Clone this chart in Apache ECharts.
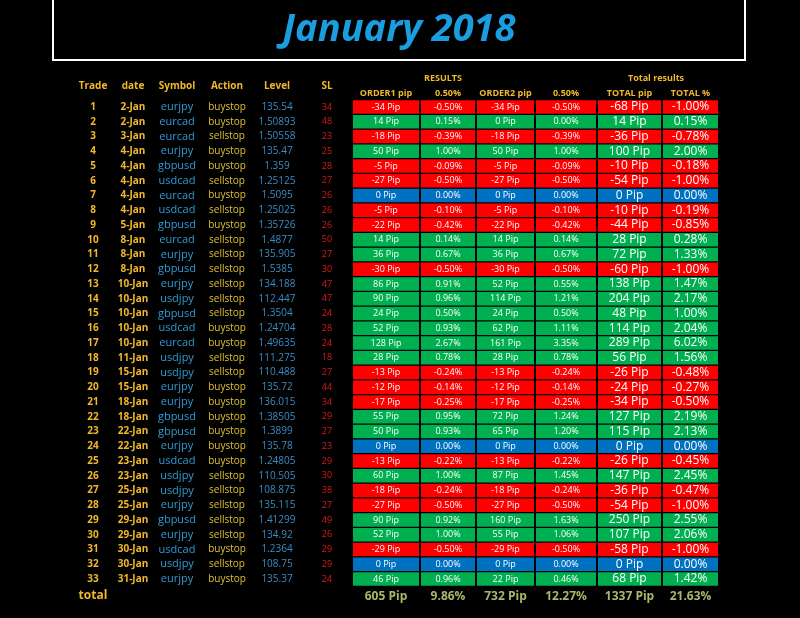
<!DOCTYPE html>
<html><head><meta charset="utf-8">
<script src="https://cdn.jsdelivr.net/npm/echarts@6/dist/echarts.min.js"></script>
<style>html,body{margin:0;padding:0;background:#000}#c{width:800px;height:618px}</style>
</head><body><div id="c"></div>
<script>
const dates=["2-Jan","2-Jan","3-Jan","4-Jan","4-Jan","4-Jan","4-Jan","4-Jan","5-Jan","8-Jan","8-Jan","8-Jan","10-Jan","10-Jan","10-Jan","10-Jan","10-Jan","11-Jan","15-Jan","15-Jan","18-Jan","18-Jan","22-Jan","22-Jan","23-Jan","23-Jan","25-Jan","25-Jan","29-Jan","29-Jan","30-Jan","30-Jan","31-Jan"];
const symbols=["eurjpy","eurcad","eurcad","eurjpy","gbpusd","usdcad","eurcad","usdcad","gbpusd","eurcad","eurjpy","gbpusd","eurjpy","usdjpy","gbpusd","usdcad","eurcad","usdjpy","usdjpy","eurjpy","eurjpy","gbpusd","gbpusd","eurjpy","usdcad","usdjpy","usdjpy","eurjpy","gbpusd","eurjpy","usdcad","usdjpy","eurjpy"];
const actions=["buystop","buystop","sellstop","buystop","buystop","sellstop","buystop","sellstop","buystop","sellstop","sellstop","sellstop","sellstop","sellstop","sellstop","buystop","buystop","sellstop","sellstop","buystop","buystop","buystop","buystop","buystop","buystop","sellstop","sellstop","sellstop","sellstop","sellstop","buystop","sellstop","buystop"];
const levels=["135.54","1.50893","1.50558","135.47","1.359","1.25125","1.5095","1.25025","1.35726","1.4877","135.905","1.5385","134.188","112.447","1.3504","1.24704","1.49635","111.275","110.488","135.72","136.015","1.38505","1.3899","135.78","1.24805","110.505","108.875","135.115","1.41299","134.92","1.2364","108.75","135.37"];
const sl=[34,48,23,25,28,27,26,26,26,50,27,30,47,47,24,28,24,18,27,44,34,29,27,23,29,30,38,27,49,26,29,29,24];
const o1pip=[-34,14,-18,50,-5,-27,0,-5,-22,14,36,-30,86,90,24,52,128,28,-13,-12,-17,55,50,0,-13,60,-18,-27,90,52,-29,0,46];
const o1pct=["-0.50%","0.15%","-0.39%","1.00%","-0.09%","-0.50%","0.00%","-0.10%","-0.42%","0.14%","0.67%","-0.50%","0.91%","0.96%","0.50%","0.93%","2.67%","0.78%","-0.24%","-0.14%","-0.25%","0.95%","0.93%","0.00%","-0.22%","1.00%","-0.24%","-0.50%","0.92%","1.00%","-0.50%","0.00%","0.96%"];
const o2pip=[-34,0,-18,50,-5,-27,0,-5,-22,14,36,-30,52,114,24,62,161,28,-13,-12,-17,72,65,0,-13,87,-18,-27,160,55,-29,0,22];
const o2pct=["-0.50%","0.00%","-0.39%","1.00%","-0.09%","-0.50%","0.00%","-0.10%","-0.42%","0.14%","0.67%","-0.50%","0.55%","1.21%","0.50%","1.11%","3.35%","0.78%","-0.24%","-0.14%","-0.25%","1.24%","1.20%","0.00%","-0.22%","1.45%","-0.24%","-0.50%","1.63%","1.06%","-0.50%","0.00%","0.46%"];
const totpip=[-68,14,-36,100,-10,-54,0,-10,-44,28,72,-60,138,204,48,114,289,56,-26,-24,-34,127,115,0,-26,147,-36,-54,250,107,-58,0,68];
const totpct=["-1.00%","0.15%","-0.78%","2.00%","-0.18%","-1.00%","0.00%","-0.19%","-0.85%","0.28%","1.33%","-1.00%","1.47%","2.17%","1.00%","2.04%","6.02%","1.56%","-0.48%","-0.27%","-0.50%","2.19%","2.13%","0.00%","-0.45%","2.45%","-0.47%","-1.00%","2.55%","2.06%","-1.00%","0.00%","1.42%"];
const totals=["605 Pip","9.86%","732 Pip","12.27%","1337 Pip","21.63%"];
const headLeft=["Trade","date","Symbol","Action","Level","SL"];
const headRes=["ORDER1 pip","0.50%","ORDER2 pip","0.50%","TOTAL pip","TOTAL %"];

// layout
const leftX=[93,133,177,227,277,327];
const cellL=[353,421,477,536,598,663], cellR=[419,475,534,596,661,718];
const leftStyle=[{c:'#f0b82a',f:'bold 10px "Open Sans"'},{c:'#f0b82a',f:'bold 10px "Open Sans"'},{c:'#2e9bd6',f:'11px "Open Sans"'},{c:'#e0c030',f:'10px "Open Sans"'},{c:'#3a8cc4',f:'10px "Open Sans"'},{c:'#e01818',f:'9px "Open Sans"'}];
const n=dates.length;
const cellData=[], leftData=[];
for(let i=0;i<n;i++){
  const s=Math.sign(totpip[i]);
  const vals=[o1pip[i]+" Pip",o1pct[i],o2pip[i]+" Pip",o2pct[i],totpip[i]+" Pip",totpct[i]];
  vals.forEach((v,j)=>cellData.push([j,i,v,s]));
  [String(i+1),dates[i],symbols[i],actions[i],levels[i],String(sl[i])].forEach((v,j)=>leftData.push([j,i,v]));
}
const col={'-1':'#fe0000','0':'#0070c0','1':'#00b050'};
const chart=echarts.init(document.getElementById('c'));
const gTop=107-7.375, gH=33*14.75;
chart.setOption({
  backgroundColor:'#000',animation:false,
  grid:{left:0,right:0,top:gTop,height:gH},
  xAxis:{type:'value',min:0,max:800,show:false},
  yAxis:{type:'value',min:-0.5,max:32.5,inverse:true,show:false},
  series:[
    {type:'custom',data:cellData,renderItem:(p,api)=>{
      const j=api.value(0), i=api.value(1);
      const a=api.coord([cellL[j],i]), b=api.coord([cellR[j],i]);
      const hh=api.size([0,1])[1];
      const big=j>=4;
      return {type:'group',children:[
        {type:'rect',shape:{x:a[0],y:a[1]-hh/2+0.5,width:b[0]-a[0],height:hh-1.2},style:{fill:col[String(api.value(3))]}},
        {type:'text',style:{x:(a[0]+b[0])/2,y:a[1],text:cellData[p.dataIndex][2],fill:'#fff',align:'center',verticalAlign:'middle',font:(big?'12px':'9px')+' "Open Sans"'}}
      ]};
    }},
    {type:'custom',data:leftData,renderItem:(p,api)=>{
      const j=api.value(0), i=api.value(1);
      const a=api.coord([leftX[j],i]);
      return {type:'text',style:{x:a[0],y:a[1],text:leftData[p.dataIndex][2],fill:leftStyle[j].c,font:leftStyle[j].f,align:'center',verticalAlign:'middle'}};
    }}
  ],
  graphic:[
    {type:'rect',shape:{x:53,y:-2,width:692,height:62},style:{fill:'#000',stroke:'#fff',lineWidth:2}},
    {type:'text',style:{x:399,y:30,text:'January 2018',fill:'#1b9ee0',font:'italic bold 38px "Open Sans"',align:'center',verticalAlign:'middle'}},
    ...headLeft.map((t,j)=>({type:'text',style:{x:leftX[j],y:86,text:t,fill:'#f0b82a',font:'bold 10px "Open Sans"',align:'center',verticalAlign:'middle'}})),
    {type:'text',style:{x:443,y:78,text:'RESULTS',fill:'#f0b82a',font:'bold 9px "Open Sans"',align:'center',verticalAlign:'middle'}},
    {type:'text',style:{x:656,y:78,text:'Total results',fill:'#f0b82a',font:'bold 9px "Open Sans"',align:'center',verticalAlign:'middle'}},
    ...headRes.map((t,j)=>({type:'text',style:{x:(cellL[j]+cellR[j])/2,y:93,text:t,fill:'#f0b82a',font:'bold 9px "Open Sans"',align:'center',verticalAlign:'middle'}})),
    {type:'text',style:{x:93,y:596,text:'total',fill:'#f0b82a',font:'bold 12px "Open Sans"',align:'center',verticalAlign:'middle'}},
    ...totals.map((t,j)=>({type:'text',style:{x:(cellL[j]+cellR[j])/2,y:597,text:t,fill:'#a8b868',font:'bold 12px "Open Sans"',align:'center',verticalAlign:'middle'}}))
  ]
});
</script></body></html>
